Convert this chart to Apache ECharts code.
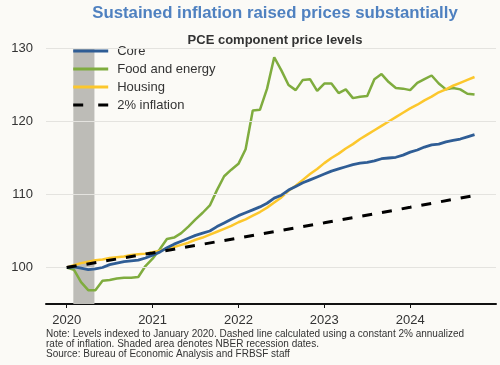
<!DOCTYPE html>
<html>
<head>
<meta charset="utf-8">
<script src="https://cdn.jsdelivr.net/npm/echarts@6/dist/echarts.min.js"></script>
<style>
html,body{margin:0;padding:0;background:#fbfaf6;}
#chart{width:500px;height:365px;}
</style>
</head>
<body>
<div id="chart"></div>
<script>
// Monthly values, index 0 = January 2020
var core = [100.0,100.1,99.9,99.7,99.8,100.0,100.4,100.6,100.8,100.9,101.0,101.3,
  101.7,102.1,102.7,103.2,103.6,104.0,104.4,104.7,105.0,105.6,106.1,106.6,
  107.1,107.5,107.9,108.3,108.8,109.5,109.9,110.6,111.1,111.6,112.0,112.4,
  112.8,113.2,113.5,113.8,114.1,114.3,114.4,114.6,114.9,115.0,115.1,115.4,
  115.8,116.1,116.5,116.8,116.9,117.2,117.4,117.6,117.9,118.2];
var foodEnergy = [100.0,99.7,98.0,96.9,96.9,98.2,98.3,98.5,98.6,98.6,98.7,100.2,
  101.2,102.5,103.9,104.1,104.7,105.6,106.6,107.5,108.5,110.6,112.5,113.4,
  114.2,116.2,121.5,121.6,124.5,128.8,127.0,125.0,124.3,125.7,125.8,124.2,
  125.2,125.2,123.9,124.4,123.2,123.4,123.5,125.8,126.5,125.4,124.6,124.5,
  124.3,125.3,125.8,126.3,125.2,124.4,124.6,124.4,123.8,123.7];
var housing = [100.0,100.3,100.6,100.8,101.0,101.1,101.3,101.4,101.5,101.7,101.8,101.9,
  102.1,102.3,102.6,102.8,103.1,103.4,103.8,104.1,104.5,104.9,105.3,105.7,
  106.2,106.6,107.1,107.6,108.2,108.9,109.6,110.5,111.2,112.0,112.8,113.5,
  114.3,115.0,115.6,116.3,116.9,117.6,118.2,118.8,119.4,120.0,120.6,121.2,
  121.8,122.3,122.9,123.4,124.0,124.4,124.9,125.3,125.7,126.1];
var inflationMonths = [0,12,24,36,48,57];
var inflation2 = [100.0,102.0,104.04,106.12,108.24,109.87];
var recession = [0.92, 3.87];          // Feb 2020 - Apr 2020 (months from Jan 2020)
var yGrid = [100,110,120,130];
var yTickLabels = [100,110,120,130];
var xTickMonths = [0,12,24,36,48];
var xTickLabels = ['2020','2021','2022','2023','2024'];
var seriesNames = ['Core','Food and energy','Housing','2% inflation'];

function pairs(arr){ return arr.map(function(v,i){ return [i,v]; }); }

var FONT = 'Liberation Sans, Arial, sans-serif';
var chart = echarts.init(document.getElementById('chart'), null, {renderer:'canvas'});
chart.setOption({
  backgroundColor:'#fbfaf6',
  animation:false,
  textStyle:{fontFamily:FONT},
  title:[
    {text:'Sustained inflation raised prices substantially', left:270, textAlign:'center', top:0,
     textStyle:{fontFamily:FONT,fontSize:16.8,fontWeight:'bold',color:'#4f81c0'}},
    {text:'PCE component price levels', left:270, textAlign:'center', top:28.5,
     textStyle:{fontFamily:FONT,fontSize:13,fontWeight:'bold',color:'#333333'}},
    {text:'Note: Levels indexed to January 2020. Dashed line calculated using a constant 2% annualized\nrate of inflation. Shaded area denotes NBER recession dates.\nSource: Bureau of Economic Analysis and FRBSF staff',
     left:41, top:324,
     textStyle:{fontFamily:FONT,fontSize:10,fontWeight:'normal',color:'#333333',lineHeight:10}}
  ],
  legend:{
    orient:'vertical', left:66.7, top:39.5, itemWidth:35, itemHeight:14, itemGap:5,
    itemStyle:{opacity:0},
    lineStyle:{width:3},
    textStyle:{fontFamily:FONT,fontSize:13,color:'#333333',padding:[0,0,0,4]},
    data:[
      {name:seriesNames[0]},
      {name:seriesNames[1]},
      {name:seriesNames[2]},
      {name:seriesNames[3], lineStyle:{type:[10,15], width:3}}
    ]
  },
  grid:{left:46, right:4, top:48.5, bottom:61, containLabel:false},
  xAxis:{
    type:'value', min:-2.9, max:60,
    axisLine:{show:true, lineStyle:{color:'#111111', width:2}},
    axisTick:{show:true, length:4, lineStyle:{color:'#111111',width:1}, customValues:xTickMonths},
    axisLabel:{customValues:xTickMonths, fontSize:13, color:'#333333', margin:10,
      formatter:function(v){ return xTickLabels[xTickMonths.indexOf(v)] || ''; }},
    splitLine:{show:false}
  },
  yAxis:{
    type:'value', min:95, max:130,
    axisLine:{show:false}, axisTick:{show:false},
    axisLabel:{customValues:yTickLabels, fontSize:13, color:'#333333', margin:13},
    splitLine:{show:false}
  },
  series:[
    {name:'bg', type:'line', data:[], silent:true, z:1,
     markLine:{silent:true, symbol:['none','none'], label:{show:false},
       lineStyle:{color:'#e4e3df', width:1, type:'solid'},
       data:yGrid.map(function(v){ return {yAxis:v}; })},
     markArea:{silent:true, itemStyle:{color:'#bdbcb7', opacity:1},
       data:[[{xAxis:recession[0]},{xAxis:recession[1]}]]}
    },
    {name:seriesNames[1], type:'line', data:pairs(foodEnergy), showSymbol:false, symbol:'none', z:3,
     lineStyle:{color:'#7fac3e', width:2.5}, itemStyle:{color:'#7fac3e'}},
    {name:seriesNames[2], type:'line', data:pairs(housing), showSymbol:false, symbol:'none', z:4,
     lineStyle:{color:'#fcc72c', width:2.5}, itemStyle:{color:'#fcc72c'}},
    {name:seriesNames[0], type:'line', data:pairs(core), showSymbol:false, symbol:'none', z:5,
     lineStyle:{color:'#2f5d95', width:2.8}, itemStyle:{color:'#2f5d95'}},
    {name:seriesNames[3], type:'line', data:inflationMonths.map(function(m,i){return [m,inflation2[i]];}),
     showSymbol:false, symbol:'none', z:6,
     lineStyle:{color:'#000000', width:3, type:[10,10]}, itemStyle:{color:'#000000'}}
  ]
});
</script>
</body>
</html>
